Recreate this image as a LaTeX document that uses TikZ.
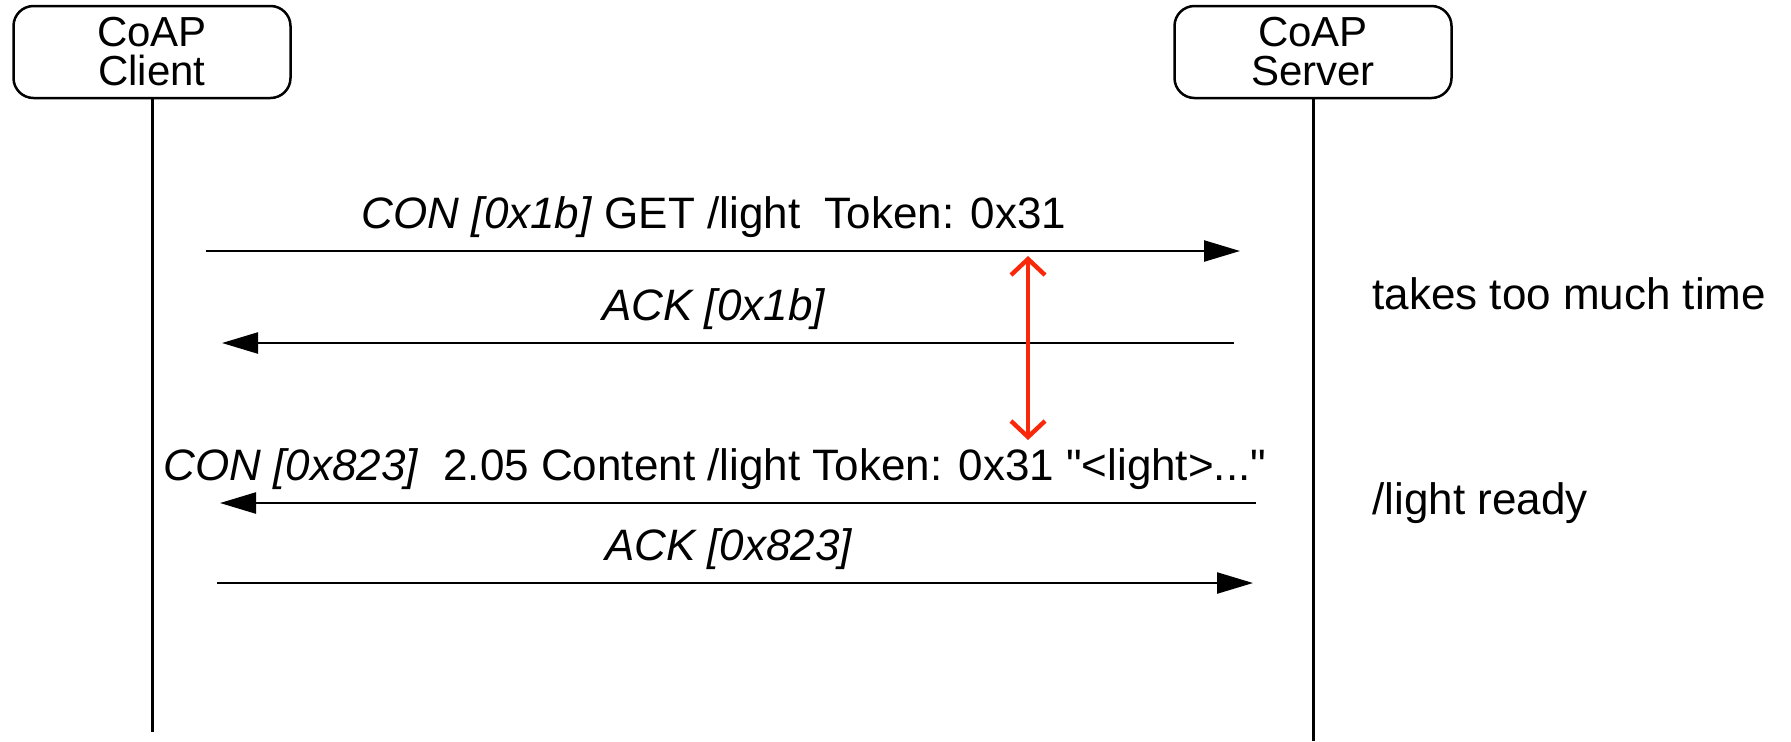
\documentclass[tikz,border=0pt]{standalone}
\usepackage{fontspec}
\setmainfont{Liberation Sans}[Ligatures=TeXOff]
\usetikzlibrary{arrows.meta}
\definecolor{alarm}{RGB}{250,40,10}
\tikzset{
  party/.style={draw, line width=1.25pt, rounded corners=10pt, minimum width=138.5pt,
    minimum height=46pt, align=center, font=\fontsize{21}{19.5}\selectfont},
  msg/.style={line width=1.2pt, -{Triangle[length=18pt,width=10.5pt]}},
  lbl/.style={anchor=base, inner sep=0pt, font=\fontsize{22}{26}\selectfont},
  side/.style={lbl, anchor=base west}
}
\begin{document}
\begin{tikzpicture}[x=0.5pt,y=-0.5pt]
  \useasboundingbox (0,0) rectangle (1791,741);
  % the two parties and their lifelines
  \node[party] (client) at (152,52) {CoAP\\Client};
  \node[party] (server) at (1313,52) {CoAP\\Server};
  \coordinate (cend) at (152,732);
  \coordinate (send) at (1313,741);
  \draw[line width=1.5pt] (client) -- (cend);
  \draw[line width=1.5pt] (server) -- (send);
  % message end points
  \coordinate (m1a) at (206,251);  \coordinate (m1b) at (1240,251);
  \coordinate (m2a) at (1234,343); \coordinate (m2b) at (222,343);
  \coordinate (m3a) at (1256,503); \coordinate (m3b) at (220,503);
  \coordinate (m4a) at (217,583);  \coordinate (m4b) at (1253,583);
  \draw[msg] (m1a) -- (m1b);
  \draw[msg] (m2a) -- (m2b);
  \draw[msg] (m3a) -- (m3b);
  \draw[msg] (m4a) -- (m4b);
  \node[lbl] (get) at (714,228) {\textit{CON [0x1b]} GET /light\ \ Token: 0x31};
  \node[lbl] (ack1) at (714,320) {\textit{ACK [0x1b]}};
  \node[lbl] (content) at (715,480) {\textit{CON [0x823]}\ \ 2.05 Content /light Token: 0x31 "<light>..."};
  \node[lbl] (ack2) at (729,560) {\textit{ACK [0x823]}};
  % waiting time
  \coordinate (wa) at (1028,256);
  \coordinate (wb) at (1028,440);
  \draw[alarm, line width=2.2pt, {Straight Barb[length=8pt,width=17pt]}-{Straight Barb[length=8pt,width=17pt]}] (wa) -- (wb);
  \node[side] (slow) at (1372,309) {takes too much time};
  \node[side] (ready) at (1372,514) {/light ready};
\end{tikzpicture}
\end{document}
